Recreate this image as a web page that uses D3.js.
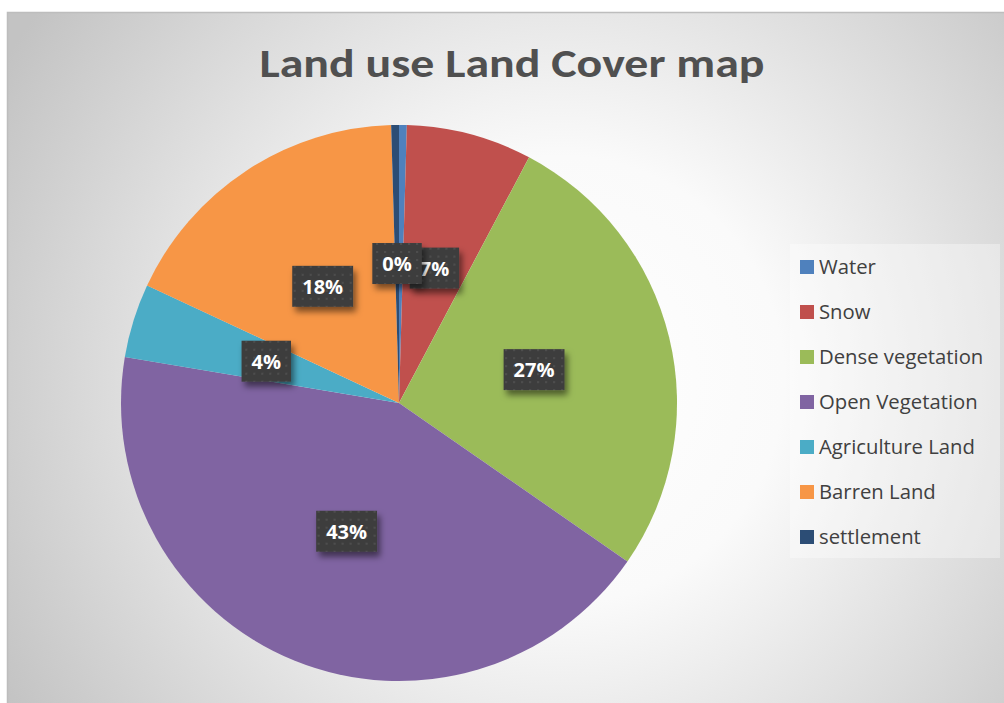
<!DOCTYPE html>
<html>
<head>
<meta charset="utf-8">
<script src="https://cdn.jsdelivr.net/npm/d3@7"></script>
<style>
  html, body { margin: 0; padding: 0; background: #ffffff; }
  svg { display: block; }
</style>
</head>
<body>
<svg id="chart" width="1004" height="703"></svg>
<script>
// Land use / land cover shares (percent of area)
const categories = ["Water", "Snow", "Dense vegetation", "Open Vegetation", "Agriculture Land", "Barren Land", "settlement"];
const shares = [0.45, 7.3, 26.9, 43.0, 4.3, 17.6, 0.45];
const colors = ["#4f81bd", "#c0504d", "#9bbb59", "#8064a2", "#4bacc6", "#f79646", "#2c4d75"];
// Which slices carry a visible data label (the two slivers share one "0%" spot)
const showLabel = [false, true, true, true, true, true, true];
const title = "Land use Land Cover map";

const svg = d3.select("#chart");
const W = 1004, H = 703;
const TITLE_FONT = "Carlito, Calibri, Lato, sans-serif";
const FONT = "'Open Sans', Carlito, Calibri, sans-serif";

const defs = svg.append("defs");

// Chart-area background: soft radial fade from white to grey
const bg = defs.append("radialGradient")
  .attr("id", "bgGrad")
  .attr("gradientUnits", "userSpaceOnUse")
  .attr("cx", 560).attr("cy", 380).attr("r", 640);
bg.append("stop").attr("offset", "0%").attr("stop-color", "#ffffff");
bg.append("stop").attr("offset", "35%").attr("stop-color", "#fafafa");
bg.append("stop").attr("offset", "100%").attr("stop-color", "#c3c3c3");

// Dotted dark texture for the data-label boxes
const pat = defs.append("pattern")
  .attr("id", "dots")
  .attr("patternUnits", "userSpaceOnUse")
  .attr("width", 8).attr("height", 8);
pat.append("rect").attr("width", 8).attr("height", 8).attr("fill", "#3e3e3e");
pat.append("rect").attr("x", 3).attr("y", 3).attr("width", 2).attr("height", 2).attr("fill", "#4e4e4e");

// Soft drop shadow under label boxes
const shadow = defs.append("filter").attr("id", "shadow")
  .attr("x", "-30%").attr("y", "-30%").attr("width", "160%").attr("height", "170%");
shadow.append("feDropShadow")
  .attr("dx", 3).attr("dy", 5).attr("stdDeviation", 3)
  .attr("flood-color", "#000").attr("flood-opacity", 0.5);

// Chart area with its border
svg.append("rect")
  .attr("x", 7.5).attr("y", 12.5)
  .attr("width", W).attr("height", H)
  .attr("fill", "url(#bgGrad)")
  .attr("stroke", "#bdbdbd").attr("stroke-width", 1.5);

// Title
svg.append("text")
  .attr("x", 512).attr("y", 77)
  .attr("text-anchor", "middle")
  .attr("font-family", TITLE_FONT)
  .attr("font-weight", "bold")
  .attr("font-size", 41)
  .attr("fill", "#505050")
  .attr("textLength", 505)
  .attr("lengthAdjust", "spacingAndGlyphs")
  .text(title);

// Pie
const cx = 399, cy = 403, R = 278;
const data = categories.map((c, i) => ({ name: c, value: shares[i], color: colors[i], label: showLabel[i] }));
const pie = d3.pie().value(d => d.value).sort(null);
const arcs = pie(data);
const arc = d3.arc().innerRadius(0).outerRadius(R);
const labelArc = d3.arc().innerRadius(R * 0.5).outerRadius(R * 0.5);

const g = svg.append("g").attr("transform", `translate(${cx},${cy})`);
g.selectAll("path.slice")
  .data(arcs)
  .join("path")
  .attr("class", "slice")
  .attr("d", arc)
  .attr("fill", d => d.data.color);

// Data labels: percentage in a dark textured box (the sliver label goes on top)
const fmt = v => Math.round(v) + "%";
const labelOrder = [1, 2, 3, 4, 5, 6, 0].map(i => arcs[i]).filter(d => d.data.label);
const lab = g.selectAll("g.label")
  .data(labelOrder)
  .join("g")
  .attr("class", "label")
  .attr("transform", d => {
    const [x, y] = labelArc.centroid(d);
    return `translate(${x},${y})`;
  });
lab.append("rect")
  .attr("fill", "url(#dots)")
  .attr("filter", "url(#shadow)");
const labText = lab.append("text")
  .attr("text-anchor", "middle")
  .attr("dy", "0.35em")
  .attr("font-family", FONT)
  .attr("font-weight", "bold")
  .attr("font-size", 20)
  .attr("fill", "#ffffff")
  .text(d => fmt(d.data.value));
labText.each(function () {
  const w = this.getComputedTextLength() + 20;
  d3.select(this.parentNode).select("rect")
    .attr("x", -w / 2).attr("y", -21)
    .attr("width", w).attr("height", 41);
});

// Legend
const legend = svg.append("g");
legend.append("rect")
  .attr("x", 790).attr("y", 244)
  .attr("width", 210).attr("height", 314)
  .attr("fill", "#ffffff").attr("opacity", 0.35);
const ly = d3.scalePoint().domain(categories).range([267, 537]);
const item = legend.selectAll("g.item")
  .data(data)
  .join("g")
  .attr("class", "item")
  .attr("transform", d => `translate(800,${ly(d.name)})`);
item.append("rect")
  .attr("x", 0).attr("y", -7)
  .attr("width", 14).attr("height", 14)
  .attr("fill", d => d.color);
item.append("text")
  .attr("x", 19).attr("dy", "0.35em")
  .attr("font-family", FONT)
  .attr("font-size", 20.3)
  .attr("fill", "#404040")
  .text(d => d.name);
</script>
</body>
</html>
